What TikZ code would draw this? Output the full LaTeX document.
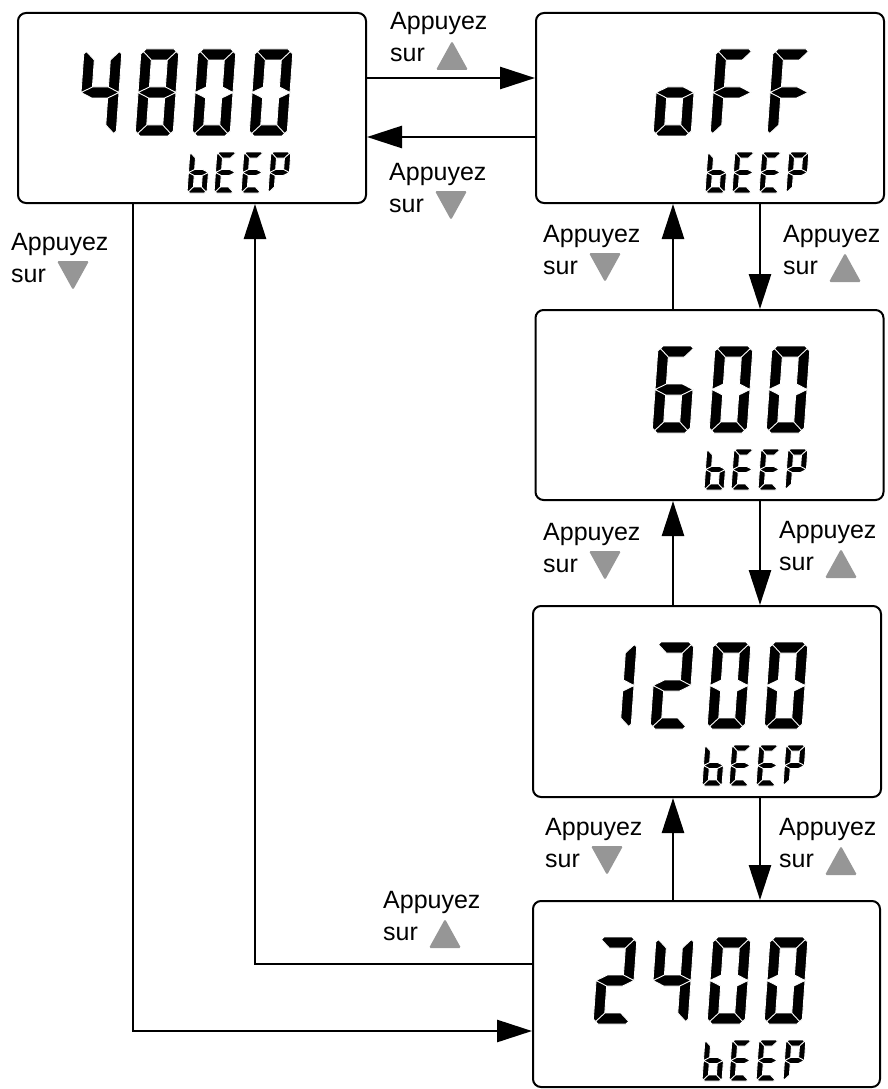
\documentclass[tikz,border=0pt]{standalone}
\usepackage{fontspec}
\setmainfont{Liberation Sans}
\usetikzlibrary{arrows.meta}
% seven-segment geometry (set per size)
\def\sgW{38}\def\sgH{87}\def\sgT{11}\def\sgC{5}
\def\SegA{(\sgC,\sgH) -- (\sgW-\sgC,\sgH) -- (\sgW-\sgC/2,\sgH-\sgC/2) -- (\sgW-\sgT,\sgH-\sgT) -- (\sgT,\sgH-\sgT) -- (\sgC/2,\sgH-\sgC/2) -- cycle }
\def\SegB{(\sgW-\sgC/2,\sgH-\sgC/2) -- (\sgW,\sgH-\sgC) -- (\sgW,\sgH/2) -- (\sgW-\sgT,\sgH/2+\sgT/2) -- (\sgW-\sgT,\sgH-\sgT) -- cycle }
\def\SegC{(\sgW,\sgH/2) -- (\sgW,\sgC) -- (\sgW-\sgC/2,\sgC/2) -- (\sgW-\sgT,\sgT) -- (\sgW-\sgT,\sgH/2-\sgT/2) -- cycle }
\def\SegD{(\sgC,0) -- (\sgW-\sgC,0) -- (\sgW-\sgC/2,\sgC/2) -- (\sgW-\sgT,\sgT) -- (\sgT,\sgT) -- (\sgC/2,\sgC/2) -- cycle }
\def\SegE{(0,\sgH/2) -- (\sgT,\sgH/2-\sgT/2) -- (\sgT,\sgT) -- (\sgC/2,\sgC/2) -- (0,\sgC) -- cycle }
\def\SegF{(0,\sgH/2) -- (\sgT,\sgH/2+\sgT/2) -- (\sgT,\sgH-\sgT) -- (\sgC/2,\sgH-\sgC/2) -- (0,\sgH-\sgC) -- cycle }
\def\SegG{(0,\sgH/2) -- (\sgT,\sgH/2+\sgT/2) -- (\sgW-\sgT,\sgH/2+\sgT/2) -- (\sgW,\sgH/2) -- (\sgW-\sgT,\sgH/2-\sgT/2) -- (\sgT,\sgH/2-\sgT/2) -- cycle }
\def\DZero{\SegA\SegB\SegC\SegD\SegE\SegF}
\def\DOne{\SegB\SegC}
\def\DTwo{\SegA\SegB\SegG\SegE\SegD}
\def\DFour{\SegF\SegG\SegB\SegC}
\def\DSix{\SegA\SegF\SegG\SegE\SegD\SegC}
\def\DEight{\SegA\SegB\SegC\SegD\SegE\SegF\SegG}
\def\Lo{\SegG\SegC\SegD\SegE}
\def\LF{\SegA\SegF\SegG\SegE}
\def\Lb{\SegF\SegE\SegD\SegC\SegG}
\def\LE{\SegA\SegF\SegG\SegE\SegD}
\def\LP{\SegA\SegB\SegF\SegG\SegE}
\newcommand\lcdchar[3]{%
  \begin{scope}[shift={(#1,#2)},xslant=0.07,yscale=-1]
    \filldraw[seg] #3;
  \end{scope}}
\newcommand\bigsize{\def\sgW{38}\def\sgH{87}\def\sgT{11}\def\sgC{5}}
\newcommand\smallsize{\def\sgW{20}\def\sgH{41}\def\sgT{6}\def\sgC{2.5}}
% beep word under display with box top-left #1,#2
\newcommand\beepword[2]{%
  \smallsize
  \lcdchar{#1+169}{#2+180}{\Lb}
  \lcdchar{#1+196}{#2+180}{\LE}
  \lcdchar{#1+223}{#2+180}{\LE}
  \lcdchar{#1+250}{#2+180}{\LP}}
\newcommand\upT[1]{\fill[tri] ([xshift=46pt,yshift=-8pt]#1.base west) -- ++(32,0) -- ++(-16,-29) -- cycle;}
\newcommand\dnT[1]{\fill[tri] ([xshift=46pt,yshift=21pt]#1.base west) -- ++(32,0) -- ++(-16,29) -- cycle;}
\begin{document}
\begin{tikzpicture}[x=1pt,y=-1pt,
  box/.style={draw, line width=2pt, rounded corners=8pt, inner sep=0pt},
  arr/.style={line width=2.7pt, -{Triangle[length=35pt,width=22pt]}},
  lbl/.style={font=\fontsize{25}{32}\selectfont, align=left, anchor=base west, inner sep=0pt},
  tri/.style={fill={rgb,255:red,150;green,150;blue,150}, rounded corners=1.5pt},
  seg/.style={fill=black, draw=white, line width=0.9pt, line join=round}]
\useasboundingbox (0,0) rectangle (887,1089);

% boxes
\node[box, minimum width=348pt, minimum height=190pt] (A) at (192,108) {};
\node[box, minimum width=348pt, minimum height=190pt] (B) at (710,108) {};
\node[box, minimum width=348pt, minimum height=190pt] (C) at (709.5,405) {};
\node[box, minimum width=348pt, minimum height=191pt] (D) at (707,701.5) {};
\node[box, minimum width=347pt, minimum height=186pt] (E) at (706.5,994) {};

% displays
\bigsize
\lcdchar{18+60}{13+123}{\DFour}
\lcdchar{18+117}{13+123}{\DEight}
\lcdchar{18+174}{13+123}{\DZero}
\lcdchar{18+231}{13+123}{\DZero}
\beepword{18}{13}
\bigsize
\lcdchar{536+117}{13+123}{\Lo}
\lcdchar{536+174}{13+123}{\LF}
\lcdchar{536+231}{13+123}{\LF}
\beepword{536}{13}
\bigsize
\lcdchar{535+117}{310+123}{\DSix}
\lcdchar{535+174}{310+123}{\DZero}
\lcdchar{535+231}{310+123}{\DZero}
\beepword{535}{310}
\bigsize
\lcdchar{533+60}{606+123}{\DOne}
\lcdchar{533+117}{606+123}{\DTwo}
\lcdchar{533+174}{606+123}{\DZero}
\lcdchar{533+231}{606+123}{\DZero}
\beepword{533}{606}
\bigsize
\lcdchar{533+60}{901+123}{\DTwo}
\lcdchar{533+117}{901+123}{\DFour}
\lcdchar{533+174}{901+123}{\DZero}
\lcdchar{533+231}{901+123}{\DZero}
\beepword{533}{901}

% connectors
\coordinate (xR) at (760,0);
\coordinate (xL) at (673,0);
\coordinate (p1) at (133,1031);
\coordinate (p2) at (255,964);
\draw[arr] ([yshift=30pt]A.east) -- ([yshift=30pt]B.west);
\draw[arr] ([yshift=-29pt]B.west) -- ([yshift=-29pt]A.east);
\draw[arr] (B.south -| xR) -- (C.north -| xR);
\draw[arr] (C.north -| xL) -- (B.south -| xL);
\draw[arr] (C.south -| xR) -- (D.north -| xR);
\draw[arr] (D.north -| xL) -- (C.south -| xL);
\draw[arr] (D.south -| xR) -- (E.north -| xR);
\draw[arr] (E.north -| xL) -- (D.south -| xL);
\draw[arr] (A.south -| p1) |- (E.west |- p1);
\draw[arr] (E.west |- p2) -| (A.south -| p2);

% labels
\node[lbl] (L1) at (390,62) {Appuyez\\sur};
\node[lbl] (L2) at (389,212) {Appuyez\\sur};
\node[lbl] (L3) at (11,282) {Appuyez\\sur};
\node[lbl] (L4) at (543,274) {Appuyez\\sur};
\node[lbl] (L5) at (783,274) {Appuyez\\sur};
\node[lbl] (L6) at (543,572) {Appuyez\\sur};
\node[lbl] (L7) at (779,570) {Appuyez\\sur};
\node[lbl] (L8) at (545,867) {Appuyez\\sur};
\node[lbl] (L9) at (779,867) {Appuyez\\sur};
\node[lbl] (L10) at (383,940) {Appuyez\\sur};
\upT{L1}
\dnT{L2}
\dnT{L3}
\dnT{L4}
\upT{L5}
\dnT{L6}
\upT{L7}
\dnT{L8}
\upT{L9}
\upT{L10}
\end{tikzpicture}
\end{document}
